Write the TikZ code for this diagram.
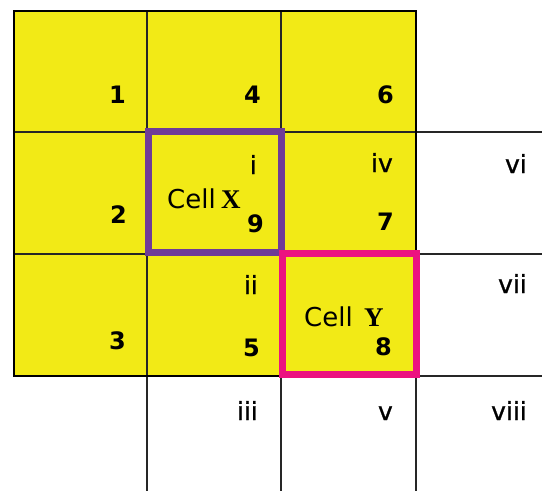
\documentclass[tikz,border=0pt]{standalone}
\usepackage{fontspec}
\setmainfont{DejaVu Sans}
\newfontfamily\romanfont[FakeBold=1]{DejaVu Sans}
\newfontfamily\serifx{Liberation Serif}
\definecolor{cellyellow}{HTML}{F2EA16}
\definecolor{cellpurple}{HTML}{6F3B97}
\definecolor{cellpink}{HTML}{EC1380}
\begin{document}
\begin{tikzpicture}[x=1pt,y=-1pt,
  gridline/.style={line width=1.5pt, draw=black!85},
  border/.style={line width=2.6pt, draw=black},
  roman/.style={font=\romanfont\fontsize{25}{27}\selectfont, anchor=base east, inner sep=0pt},
  digit/.style={font=\bfseries\fontsize{24}{26}\selectfont, anchor=base east, inner sep=0pt},
  celltext/.style={font=\fontsize{26}{28}\selectfont, anchor=base west, inner sep=0pt},
  hilite/.style={line width=7pt}]
\useasboundingbox (0,0) rectangle (542,491);
\fill[cellyellow] (14,11) rectangle (416,376);
% grid lines
\draw[gridline] (147,11) -- (147,491);
\draw[gridline] (281,11) -- (281,491);
\draw[gridline] (416,11) -- (416,491);
\draw[gridline] (14,132) -- (542,132);
\draw[gridline] (14,254) -- (542,254);
\draw[gridline] (14,376) -- (542,376);
\draw[border] (14,11) rectangle (416,376);
% highlighted cells
\draw[hilite, cellpurple] (148,131.5) rectangle (281.5,252.5);
\draw[hilite, cellpink] (282,253) rectangle (416,374.5);
% labels
\node[digit] (n1) at (126,103) {1};
\node[digit] (n4) at (261,103) {4};
\node[digit] (n6) at (394,103) {6};
\node[digit] (n2) at (127,223) {2};
\node[digit] (n9) at (264,232) {9};
\node[digit] (n7) at (394,230) {7};
\node[digit] (n3) at (126,349) {3};
\node[digit] (n5) at (260,356) {5};
\node[digit] (n8) at (392,355) {8};
\node[roman] (ri) at (257,174) {i};
\node[roman] (riv) at (393,172) {iv};
\node[roman] (rvi) at (527,173) {vi};
\node[roman] (rii) at (258,294) {ii};
\node[roman] (rvii) at (527,293) {vii};
\node[roman] (riii) at (258,420) {iii};
\node[roman] (rv) at (393,420) {v};
\node[roman] (rviii) at (527,420) {viii};
\node[celltext] (cx) at (167,208) {Cell \kern-3pt{\serifx\bfseries\fontsize{27}{29}\selectfont X}};
\node[celltext] (cy) at (304,326) {Cell \kern3pt{\serifx\bfseries\fontsize{27}{29}\selectfont Y}};
\end{tikzpicture}
\end{document}
